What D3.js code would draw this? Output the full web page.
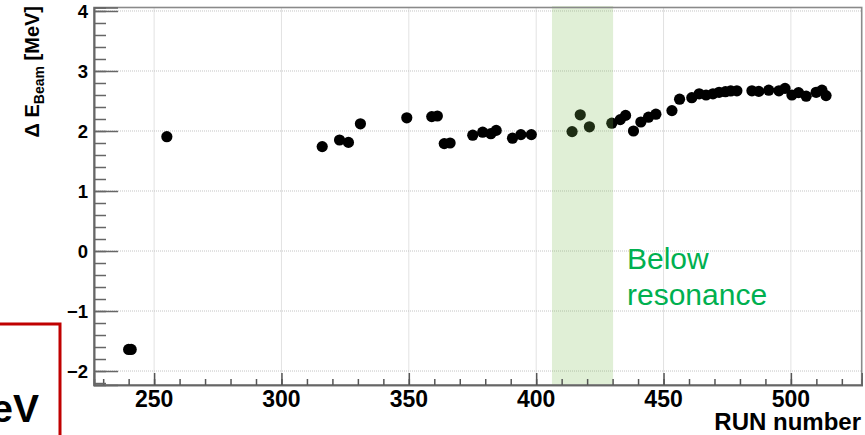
<!DOCTYPE html>
<html>
<head>
<meta charset="utf-8">
<script src="https://cdn.jsdelivr.net/npm/d3@7"></script>
<style>
  html, body { margin: 0; padding: 0; background: #fff; overflow: hidden; }
  svg { display: block; font-family: "Liberation Sans", Arial, Helvetica, sans-serif; }
</style>
</head>
<body>
<svg id="chart" width="865" height="435"></svg>
<script>
// Beam energy offset per run
const runs = [240, 241, 255, 316, 322.8, 326.3, 331, 349.2, 359, 361.2, 363.9, 366.2,
  375.1, 379, 382.2, 384.3, 390.7, 394, 398.1,
  414.1, 417.3, 420.9, 429.7, 433, 435.1, 438.2, 441.1, 444.1, 447, 453.3, 456.3,
  461.1, 464, 466.7, 469.4, 471.8, 474.3, 476.4, 478.8, 484.7, 487.4, 491.3, 495.3,
  497.7, 500.4, 503, 506, 509.9, 512.2, 513.8];
const deltaE = [-1.64, -1.64, 1.905, 1.74, 1.85, 1.81, 2.12, 2.22, 2.24, 2.25, 1.79, 1.80,
  1.93, 1.98, 1.955, 2.01, 1.88, 1.94, 1.94,
  1.99, 2.27, 2.07, 2.13, 2.19, 2.26, 2.00, 2.15, 2.23, 2.28, 2.34, 2.53,
  2.555, 2.62, 2.60, 2.62, 2.645, 2.655, 2.667, 2.67, 2.67, 2.66, 2.68, 2.67,
  2.71, 2.60, 2.64, 2.58, 2.645, 2.68, 2.59];

// Run range taken below the resonance
const belowResonance = [406.2, 430.2];

const xMajor = [250, 300, 350, 400, 450, 500];
const yMajor = [-2, -1, 0, 1, 2, 3, 4];
const yTickText = ["\u22122", "\u22121", "0", "1", "2", "3", "4"];

const svg = d3.select("#chart");
const pLeft = 94, pRight = 861.7, pTop = 7.5, pBottom = 385;

const x = d3.scaleLinear().domain([226.4, 527.8]).range([pLeft, pRight]);
const y = d3.scaleLinear().domain([-2.233, 4.058]).range([pBottom, pTop]);

// dotted grid at major ticks
const grid = svg.append("g").attr("stroke", "#c4c4c4").attr("stroke-width", 1)
  .attr("stroke-dasharray", "1,1");
grid.selectAll("line.gx").data(xMajor).join("line").attr("class", "gx")
  .attr("x1", d => x(d)).attr("x2", d => x(d)).attr("y1", pTop).attr("y2", pBottom);
grid.selectAll("line.gy").data(yMajor).join("line").attr("class", "gy")
  .attr("x1", pLeft).attr("x2", pRight).attr("y1", d => y(d)).attr("y2", d => y(d));

// data markers
svg.append("g").selectAll("circle").data(runs).join("circle")
  .attr("cx", d => x(d)).attr("cy", (d, i) => y(deltaE[i])).attr("r", 5.6)
  .attr("fill", "#000");

// translucent band marking runs below resonance
svg.append("rect")
  .attr("x", x(belowResonance[0])).attr("y", 6)
  .attr("width", x(belowResonance[1]) - x(belowResonance[0]))
  .attr("height", pBottom - 6)
  .attr("fill", "#7dbe53").attr("fill-opacity", 0.24);

// frame
svg.append("rect").attr("x", pLeft).attr("y", pTop).attr("width", pRight - pLeft)
  .attr("height", pBottom - pTop).attr("fill", "none").attr("stroke", "#8a8a8a").attr("stroke-width", 1.6);

// x axis
const xAxis = svg.append("g").attr("transform", `translate(0,${pBottom})`);
xAxis.call(d3.axisBottom(x).tickValues(d3.range(230, 521, 10)).tickSize(-6).tickFormat(""));
xAxis.append("g").call(d3.axisBottom(x).tickValues(xMajor).tickSize(-12).tickFormat(""));
xAxis.selectAll(".domain").attr("stroke", "#666").attr("stroke-width", 1.6);
xAxis.selectAll(".tick line").attr("stroke", "#555").attr("stroke-width", 1.5);
xAxis.selectAll("text.lbl").data(xMajor).join("text").attr("class", "lbl")
  .attr("x", d => x(d)).attr("y", 22).attr("text-anchor", "middle")
  .attr("font-size", 23).attr("font-weight", "bold").attr("fill", "#000")
  .text(d => d);

// y axis
const yAxis = svg.append("g").attr("transform", `translate(${pLeft},0)`);
yAxis.call(d3.axisLeft(y).tickValues(d3.range(-22, 41, 2).map(v => v / 10)).tickSize(-12).tickFormat(""));
yAxis.append("g").call(d3.axisLeft(y).tickValues(yMajor).tickSize(-24).tickFormat(""));
yAxis.selectAll(".domain").attr("stroke", "#666").attr("stroke-width", 1.6);
yAxis.selectAll(".tick line").attr("stroke", "#666").attr("stroke-width", 1.5);
yAxis.selectAll("text.lbl").data(yMajor).join("text").attr("class", "lbl")
  .attr("x", -6).attr("y", d => y(d)).attr("dy", "0.36em").attr("text-anchor", "end")
  .attr("font-size", 18.5).attr("font-weight", "bold").attr("fill", "#000")
  .text((d, i) => yTickText[i]);

// axis titles
svg.append("text").attr("x", 861).attr("y", 430).attr("text-anchor", "end")
  .attr("font-size", 24).attr("font-weight", "bold").attr("fill", "#000")
  .text("RUN number");

const yt = svg.append("text").attr("transform", "translate(39,6) rotate(-90)")
  .attr("text-anchor", "end").attr("font-size", 20).attr("font-weight", "bold").attr("fill", "#000");
yt.append("tspan").text("\u0394 E");
yt.append("tspan").attr("font-size", 14).attr("dy", 5).text("Beam");
yt.append("tspan").attr("dy", -5).text(" [MeV]");

// annotation
const note = svg.append("text").attr("font-size", 30).attr("fill", "#00b050");
note.append("tspan").attr("x", 627).attr("y", 269).text("Below");
note.append("tspan").attr("x", 627).attr("y", 305).text("resonance");

// red box at lower left
svg.append("path").attr("d", "M -5 324 H 60 V 440")
  .attr("fill", "none").attr("stroke", "#c00000").attr("stroke-width", 3);
svg.append("text").attr("x", 39).attr("y", 422).attr("text-anchor", "end")
  .attr("font-size", 39).attr("font-weight", "bold").attr("fill", "#000").text("eV");
</script>
</body>
</html>
